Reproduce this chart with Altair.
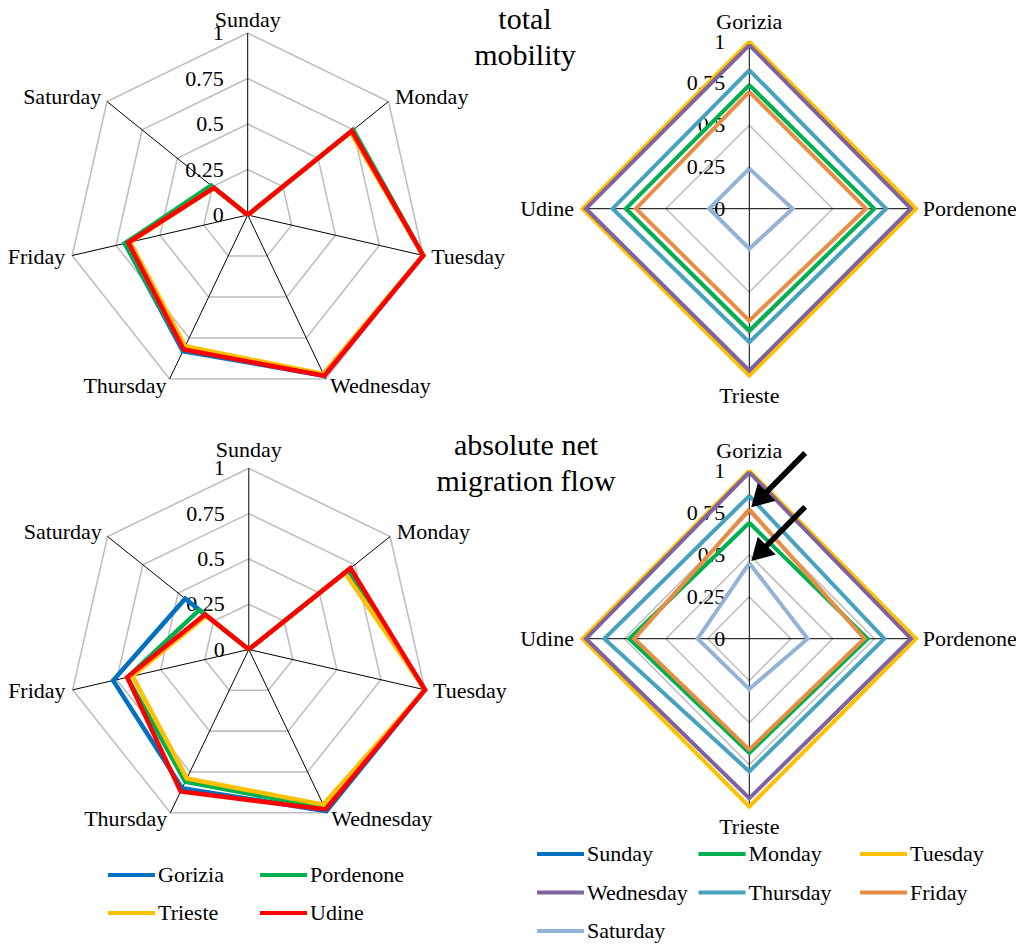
import altair as alt
import pandas as pd

# ---------------- data ----------------
days = ["Sunday", "Monday", "Tuesday", "Wednesday", "Thursday", "Friday", "Saturday"]
cities = ["Gorizia", "Pordenone", "Trieste", "Udine"]
ticks = [0, 0.25, 0.5, 0.75, 1]
tick_labels = ["0", "0.25", "0.5", "0.75", "1"]

# total mobility (values Sunday..Saturday per city)
tm_gorizia = [0, 0.74, 1.0, 0.98, 0.83, 0.70, 0.24]
tm_pordenone = [0, 0.75, 1.0, 0.97, 0.82, 0.70, 0.26]
tm_trieste = [0, 0.73, 1.0, 0.97, 0.80, 0.67, 0.24]
tm_udine = [0, 0.74, 1.0, 0.98, 0.82, 0.68, 0.24]

# absolute net migration flow (values Sunday..Saturday per city)
nm_gorizia = [0, 0.69, 1.0, 0.99, 0.85, 0.77, 0.45]
nm_pordenone = [0, 0.71, 1.0, 0.97, 0.81, 0.69, 0.35]
nm_trieste = [0, 0.68, 1.0, 0.95, 0.79, 0.66, 0.30]
nm_udine = [0, 0.72, 1.0, 0.98, 0.87, 0.69, 0.31]

# arrows in the lower right chart point at Gorizia's Friday and Saturday values
arrow_days = ["Friday", "Saturday"]

# ---------------- styles ----------------
city_colors = ["#0070C0", "#00B050", "#FFC000", "#FF0000"]
day_colors = ["#0070C0", "#00B050", "#FFC000", "#7F63A1", "#46A2BE", "#E88D44", "#95B3D7"]
FONT = "Liberation Serif"
W, H = 1008, 936


def long_table(series_names, matrix, axis_names):
    n = len(axis_names)
    rows = []
    for s_i, (name, vals) in enumerate(zip(series_names, matrix)):
        for k in range(n + 1):
            rows.append({"series": name, "s": s_i, "k": k, "v": vals[k % n]})
    return pd.DataFrame(rows)


def domains(cx, cy, rx, ry):
    xmin = -(cx - 8) / rx
    xmax = xmin + W / rx
    ymax = (cy - 8) / ry
    ymin = ymax - H / ry
    return [xmin, xmax], [ymin, ymax]


def radar(table, series_names, colors, axis_names, geom, lab, lw, arrows=None):
    cx, cy, rx, ry = geom
    n = len(axis_names)
    xd, yd = domains(cx, cy, rx, ry)

    def X(f):
        return alt.X(f, type="quantitative", scale=alt.Scale(domain=xd, nice=False, zero=False), axis=None)

    def Y(f):
        return alt.Y(f, type="quantitative", scale=alt.Scale(domain=yd, nice=False, zero=False), axis=None)

    ang = f"2*PI*datum.k/{n}"

    ring_df = pd.DataFrame([{"t": t, "k": k} for t in ticks[1:] for k in range(n + 1)])
    rings = alt.Chart(ring_df).mark_line(color="#BFBFBF", strokeWidth=1.6).transform_calculate(
        x=f"datum.t*sin({ang})", y=f"datum.t*cos({ang})"
    ).encode(x=X("x"), y=Y("y"), detail="t:N", order="k:Q")

    spoke_df = pd.DataFrame({"k": list(range(n))})
    spokes = alt.Chart(spoke_df).mark_rule(color="#000000", strokeWidth=1).transform_calculate(
        x0="0", y0="0", x1=f"sin({ang})", y1=f"cos({ang})"
    ).encode(x=X("x0"), y=Y("y0"), x2=alt.X2("x1"), y2=alt.Y2("y1"))

    tick_df = pd.DataFrame({"t": ticks, "label": tick_labels})
    tick_text = alt.Chart(tick_df).mark_text(
        align="right", baseline="middle", dx=-24, font=FONT, fontSize=22, color="#000000"
    ).transform_calculate(x0="0").encode(x=X("x0"), y=Y("t"), text="label:N")

    lines = alt.Chart(table).mark_line(strokeWidth=lw).transform_calculate(
        x=f"datum.v*sin({ang})", y=f"datum.v*cos({ang})"
    ).encode(
        x=X("x"), y=Y("y"),
        color=alt.Color("series:N", scale=alt.Scale(domain=series_names, range=colors), legend=None),
        order="k:Q",
    )

    lab_df = pd.DataFrame({"k": list(range(n)), "name": axis_names})
    base = alt.Chart(lab_df).transform_calculate(
        sx=f"sin({ang})", cy=f"cos({ang})",
        x="1.04*datum.sx", y="1.04*datum.cy",
    )
    tprops = dict(font=FONT, fontSize=22, color="#000000", baseline="middle")
    right = base.transform_filter("datum.sx > 0.01").mark_text(align="left", dx=lab["dxr"], **tprops).encode(
        x=X("x"), y=Y("y"), text="name:N")
    left = base.transform_filter("datum.sx < -0.01").mark_text(align="right", dx=lab["dxl"], **tprops).encode(
        x=X("x"), y=Y("y"), text="name:N")
    top = base.transform_filter("abs(datum.sx) <= 0.01 && datum.cy > 0").mark_text(
        align="center", dy=lab["dyt"], **tprops).encode(x=X("x"), y=Y("y"), text="name:N")
    bottom = base.transform_filter("abs(datum.sx) <= 0.01 && datum.cy < 0").mark_text(
        align="center", dy=lab["dyb"], **tprops).encode(x=X("x"), y=Y("y"), text="name:N")

    layers = [rings, spokes, tick_text, lines, right, left, top, bottom]

    if arrows is not None:
        arr_df = pd.DataFrame({"v": arrows})
        shaft = alt.Chart(arr_df).mark_rule(color="#000000", strokeWidth=5.5).transform_calculate(
            hx="0.058", hy="datum.v+0.058", tx="0.335", ty="datum.v+0.335"
        ).encode(x=X("hx"), y=Y("hy"), x2=alt.X2("tx"), y2=alt.Y2("ty"))
        head = alt.Chart(arr_df).mark_point(
            shape="triangle-up", filled=True, size=640, angle=225, color="#000000", opacity=1
        ).transform_calculate(hx="0.058", hy="datum.v+0.058").encode(x=X("hx"), y=Y("hy"))
        layers += [shaft, head]

    return alt.layer(*layers)


def legend(series_names, colors, ncol, x0, y0, colw, rowh):
    df = pd.DataFrame({"series": series_names, "i": list(range(len(series_names)))})
    base = alt.Chart(df).transform_calculate(
        col=f"datum.i % {ncol}", row=f"floor(datum.i / {ncol})"
    ).transform_calculate(
        x1=f"{x0} + {colw}*datum.col", x2=f"{x0 + 47} + {colw}*datum.col",
        tx=f"{x0 + 50} + {colw}*datum.col", y=f"{y0} + {rowh}*datum.row",
    )
    sym = base.mark_rule(strokeWidth=4).encode(
        x=alt.X("x1:Q", scale=None), x2="x2:Q", y=alt.Y("y:Q", scale=None),
        color=alt.Color("series:N", scale=alt.Scale(domain=series_names, range=colors), legend=None),
    )
    txt = base.mark_text(align="left", baseline="middle", font=FONT, fontSize=22, color="#000000").encode(
        x=alt.X("tx:Q", scale=None), y=alt.Y("y:Q", scale=None), text="series:N"
    )
    return alt.layer(sym, txt)


tm_by_city = [tm_gorizia, tm_pordenone, tm_trieste, tm_udine]
nm_by_city = [nm_gorizia, nm_pordenone, nm_trieste, nm_udine]
tm_by_day = [[c[d] for c in tm_by_city] for d in range(len(days))]
nm_by_day = [[c[d] for c in nm_by_city] for d in range(len(days))]

hept_top = {"dxr": 1, "dxl": 0, "dyt": -6, "dyb": 12}
hept_bot = {"dxr": 1, "dxl": 0, "dyt": -11, "dyb": 12}
diam_lab = {"dxr": 0, "dxl": -2, "dyt": -13, "dyb": 14}

tl = radar(long_table(cities, tm_by_city, days), cities, city_colors, days,
           (247.7, 215.0, 180.0, 182.0), hept_top, 4.5)
tr = radar(long_table(days, tm_by_day, cities), days, day_colors, cities,
           (749.3, 208.7, 166.7, 167.0), diam_lab, 4)
bl = radar(long_table(cities, nm_by_city, days), cities, city_colors, days,
           (248.8, 649.5, 180.7, 181.2), hept_bot, 4.5)
arrow_vals = [nm_gorizia[days.index(d)] for d in arrow_days]
br = radar(long_table(days, nm_by_day, cities), days, day_colors, cities,
           (749.3, 638.7, 166.7, 168.0), diam_lab, 4, arrows=arrow_vals)

leg_l = legend(cities, city_colors, 2, 100, 867, 152, 38)
leg_r = legend(days, day_colors, 3, 529, 846, 161.5, 38.5)

title_df = pd.DataFrame({"text": ["total\nmobility", "absolute net\nmigration flow"],
                         "px": [517, 518], "py": [21, 447]})
titles = alt.Chart(title_df).mark_text(
    align="center", baseline="alphabetic", lineBreak="\n", lineHeight=36,
    font=FONT, fontSize=30, color="#000000"
).encode(x=alt.X("px:Q", scale=None), y=alt.Y("py:Q", scale=None), text="text:N")

chart = alt.layer(tl, tr, bl, br, leg_l, leg_r, titles).resolve_scale(
    x="independent", y="independent", color="independent"
).properties(width=W, height=H, padding=0, autosize="none", background="#FFFFFF").configure_view(strokeWidth=0)

chart.save("out.html", embed_options={"renderer": "svg", "actions": False})
